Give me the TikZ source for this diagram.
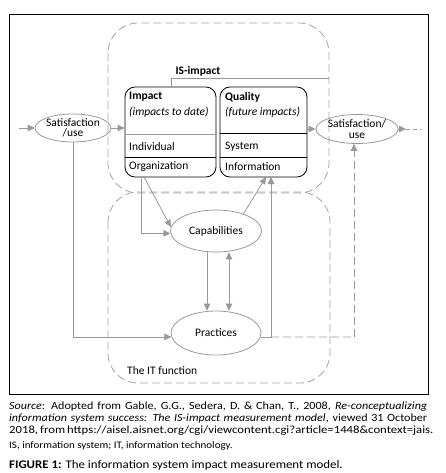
\documentclass[tikz,border=0pt]{standalone}
\usepackage{fontspec}
\setmainfont{Carlito}
\newfontfamily\capfont[FakeStretch=1.1]{Carlito}
\newfontfamily\capfontw[FakeStretch=1.155]{Carlito}
\usetikzlibrary{arrows.meta,shapes.geometric}
\definecolor{conncol}{HTML}{999999}
\definecolor{dashcol}{HTML}{A4A4A4}
\begin{document}
\begin{tikzpicture}[x=1pt,y=-1pt,
  font=\fontsize{11.5pt}{10.5pt}\selectfont,
  connector/.style={draw=conncol, line width=0.8pt},
  arr/.style={connector, -{Triangle[length=7pt,width=6.5pt]}},
  darr/.style={connector, {Triangle[length=7pt,width=6.5pt]}-{Triangle[length=7pt,width=6.5pt]}},
  dashline/.style={dash pattern=on 8pt off 4pt},
  dashbox/.style={draw=dashcol, line width=0.8pt, dash pattern=on 8pt off 4pt, rounded corners=30pt},
  ell/.style={ellipse, draw=conncol, line width=0.8pt, inner sep=0pt, align=center},
  mbox/.style={draw=black, line width=0.8pt, rounded corners=10pt, inner sep=0pt},
  txt/.style={anchor=west, inner sep=0pt},
  captxt/.style={anchor=west, inner sep=0pt}
]
\useasboundingbox (0,0) rectangle (446,473);
% outer frame
\draw[black, line width=0.8pt] (9,14) rectangle (428,394);
% dashed regions
\draw[dashbox] (108,23) rectangle (329,193);
\draw[dashbox] (108,192) rectangle (330,383);

% boxes
\node[mbox, minimum width=91pt, minimum height=90pt] (impact) at (170.5,132) {};
\node[mbox, minimum width=87pt, minimum height=90pt] (quality) at (263.5,132) {};
\draw[conncol, line width=0.8pt] (impact.west |- 0,134) -- (impact.east |- 0,134);
\draw[black, line width=0.8pt] (impact.west |- 0,157) -- (impact.east |- 0,157);
\draw[black, line width=1pt] (quality.west |- 0,134) -- (quality.east |- 0,134);
\draw[black, line width=0.8pt] (quality.west |- 0,157) -- (quality.east |- 0,157);

\node[txt] (impT) at (129,97) {\textbf{Impact}};
\node[txt] (impS) at (129,112) {\textit{(impacts to date)}};
\node[txt] (indiv) at (129,147) {Individual};
\node[txt] (org) at (129,167) {Organization};
\node[txt] (qualT) at (225,97) {\textbf{Quality}};
\node[txt] (qualS) at (225,112) {\textit{(future impacts)}};
\node[txt] (sys) at (225,147) {System};
\node[txt] (info) at (225,167) {Information};

\node[font=\fontsize{11.5pt}{12pt}\selectfont\bfseries] (islab) at (198,71) {IS-impact};
\coordinate (isR) at (329,78);
\coordinate (isL) at (171,78);
\draw[connector] (impact.north -| isL) -- (isL) -- (isR);

% ellipses
\node[ell, minimum width=72pt, minimum height=28pt] (satL) at (73,128) {Satisfaction\\/use};
\node[ell, minimum width=74pt, minimum height=29pt] (satR) at (357,129) {Satisfaction/\\use};
\node[ell, minimum width=91pt, minimum height=42pt] (cap) at (216,231) {Capabilities};
\node[ell, minimum width=90pt, minimum height=44pt] (prac) at (216,333) {Practices};

\node[txt] (itf) at (127,371) {The IT function};

% connectors
\coordinate (inL) at (19,128);
\draw[arr] (inL) -- (satL.west);
\draw[arr] (satL.east) -- (satL.east -| impact.west);
\draw[arr] (quality.east |- satR.west) -- (satR.west);
\coordinate (outA) at (406,129);
\coordinate (outB) at (421,129);
\draw[arr] (satR.east) -- (outA);
\draw[connector, dash pattern=on 4pt off 3pt] (outA) -- (outB);

\draw[arr] (satL.south) |- (prac.185);

\coordinate (infoB) at (271,177);
\draw[arr] (prac.355) -| (infoB);
\coordinate (dashC) at (354,337);
\draw[connector, dashline] (prac.355 -| infoB) -- (dashC);
\draw[arr, dashline] (dashC) -- (dashC |- satR.south);

\coordinate (orgV) at (141,177);
\coordinate (orgD) at (144,177);
\draw[arr] (orgV) |- (cap.183);
\draw[arr] (orgD) -- (cap.175);
\coordinate (infoA) at (266,177);
\draw[arr] (cap.32) -- (infoA);

\coordinate (xa) at (207,0);
\coordinate (xb) at (229,0);
\draw[arr] (cap.south -| xa) -- (prac.north -| xa);
\draw[darr] (cap.south -| xb) -- (prac.north -| xb);

% caption
\node[captxt, font=\capfont\fontsize{11pt}{12pt}\selectfont] (src1) at (9,407)
  {\hbox to 418pt{\textit{Source}: Adopted from Gable, G.G., Sedera, D. \& Chan, T., 2008, \textit{Re-conceptualizing}}};
\node[captxt, font=\capfont\fontsize{11pt}{12pt}\selectfont] (src2) at (9,419)
  {\hbox to 418pt{\textit{information system success: The IS-impact measurement model}, viewed 31 October}};
\node[captxt, font=\capfontw\fontsize{11pt}{12pt}\selectfont] (src3) at (9,431)
  {\hbox to 418pt{2018, from https://aisel.aisnet.org/cgi/viewcontent.cgi?article=1448\&context=jais.}};
\node[captxt, font=\capfont\fontsize{10pt}{12pt}\selectfont] (abbr) at (9,446)
  {IS, information system; IT, information technology.};
\node[captxt, font=\capfont\fontsize{11.7pt}{13pt}\selectfont] (fig) at (9,465)
  {\textbf{FIGURE 1:} The information system impact measurement model.};
\end{tikzpicture}
\end{document}
